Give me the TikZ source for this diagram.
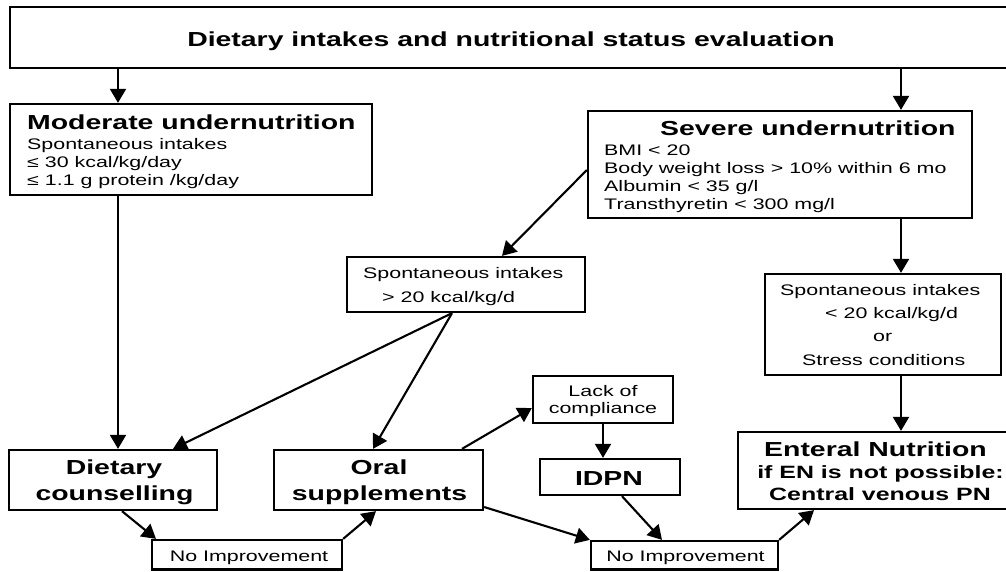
\documentclass[tikz,border=0pt]{standalone}
\usepackage{fontspec}
\setmainfont{Liberation Sans}[FakeStretch=1.4]
\usetikzlibrary{arrows.meta}
\newcommand\fsm{\fontsize{15.3}{18}\selectfont}
\newcommand\fbig{\fontsize{20.3}{24}\selectfont\bfseries}
\newcommand\fmid{\fontsize{17.8}{22}\selectfont\bfseries}
\begin{document}
\begin{tikzpicture}[x=1pt,y=-1pt,
  boxn/.style={draw, line width=2.3pt, inner sep=0pt},
  txt/.style={inner sep=0pt, anchor=base west},
  ctxt/.style={inner sep=0pt, anchor=base},
  arr/.style={line width=2.1pt, -{Triangle[width=16pt,length=14pt]}}]
\useasboundingbox (0,0) rectangle (1006,571);
\clip (0,0) rectangle (1006,571);
% boxes
\node[boxn, line width=2.8pt, minimum width=1002pt, minimum height=61pt] (top) at (511,37.5) {};
\node[boxn, minimum width=362pt, minimum height=91pt] (mod) at (191,149.5) {};
\node[boxn, minimum width=384pt, minimum height=107pt] (sev) at (780,164.5) {};
\node[boxn, minimum width=238pt, minimum height=55pt] (sp1) at (466,284.5) {};
\node[boxn, minimum width=236pt, minimum height=101pt] (sp2) at (883,324.5) {};
\node[boxn, minimum width=208pt, minimum height=60pt] (diet) at (113,480) {};
\node[boxn, minimum width=209pt, minimum height=60pt] (oral) at (378.5,480) {};
\node[boxn, minimum width=140pt, minimum height=47pt] (lack) at (603,399.5) {};
\node[boxn, minimum width=140pt, minimum height=36pt] (idpn) at (610,477) {};
\node[boxn, minimum width=274pt, minimum height=77pt] (ent) at (875,470.5) {};
\node[boxn, minimum width=190pt, minimum height=29.5pt] (ni1) at (247,554.75) {};
\node[boxn, minimum width=187pt, minimum height=28.5pt] (ni2) at (684.5,555.25) {};
% texts
\node[ctxt] (ttop) at (511,46.5) {\fbig Dietary intakes and nutritional status evaluation};
\node[txt] (tmod1) at (27,129.5) {\fbig Moderate undernutrition};
\node[txt] (tmod2) at (27,149.5) {\fsm Spontaneous intakes};
\node[txt] (tmod3) at (27,167.5) {\fsm ≤ 30 kcal/kg/day};
\node[txt] (tmod4) at (27,185.5) {\fsm ≤ 1.1 g protein /kg/day};
\node[txt] (tsev1) at (660,135) {\fbig Severe undernutrition};
\node[txt] (tsev2) at (604,155) {\fsm BMI < 20};
\node[txt] (tsev3) at (604,173) {\fsm Body weight loss > 10\% within 6 mo};
\node[txt] (tsev4) at (604,191) {\fsm Albumin < 35 g/l};
\node[txt] (tsev5) at (604,209) {\fsm Transthyretin < 300 mg/l};
\node[txt] (tsp11) at (363,278) {\fsm Spontaneous intakes};
\node[txt] (tsp12) at (382,302) {\fsm > 20 kcal/kg/d};
\node[txt] (tsp21) at (780,295) {\fsm Spontaneous intakes};
\node[txt] (tsp22) at (825,318) {\fsm < 20 kcal/kg/d};
\node[txt] (tsp23) at (873,341) {\fsm or};
\node[txt] (tsp24) at (802,365.5) {\fsm Stress conditions};
\node[ctxt] (tlack1) at (603,396.5) {\fsm Lack of};
\node[ctxt] (tlack2) at (603,413.5) {\fsm compliance};
\node[ctxt] (tidpn) at (609,485) {\fbig IDPN};
\node[ctxt] (tdiet1) at (114,474) {\fbig Dietary};
\node[ctxt] (tdiet2) at (114.5,500) {\fbig counselling};
\node[ctxt] (toral1) at (379,474) {\fbig Oral};
\node[ctxt] (toral2) at (379.5,500) {\fbig supplements};
\node[ctxt] (tni1) at (249,561.5) {\fsm No Improvement};
\node[ctxt] (tni2) at (685.5,561.5) {\fsm No Improvement};
\node[ctxt] (tent1) at (875.5,456) {\fbig Enteral Nutrition};
\node[ctxt] (tent2) at (880.5,478) {\fmid if EN is not possible:};
\node[ctxt] (tent3) at (880,500) {\fmid Central venous PN};
% connectors
\draw[arr] (top.south -| 118,0) -- (mod.north -| 118,0);
\draw[arr] (top.south -| 901,0) -- (sev.north -| 901,0);
\draw[arr] (sev.west |- 0,170) -- (sp1.north -| 502,0);
\draw[arr] (sp1.south -| 452,0) -- (diet.north -| 173,0);
\draw[arr] (sp1.south -| 452,0) -- (oral.north -| 373,0);
\draw[arr] (mod.south -| 118,0) -- (diet.north -| 118,0);
\draw[arr] (diet.south -| 122,0) -- (ni1.north -| 156,0);
\draw[arr] (ni1.north east) -- (oral.south -| 376,0);
\draw[arr] (oral.north -| 462,0) -- (lack.west |- 0,408);
\draw[arr] (oral.east |- 0,507) -- (ni2.north west);
\draw[arr] (lack.south -| 603,0) -- (idpn.north -| 603,0);
\draw[arr] (idpn.south -| 622,0) -- (ni2.north -| 662,0);
\draw[arr] (ni2.north east) -- (ent.south -| 814,0);
\draw[arr] (sev.south -| 901,0) -- (sp2.north -| 901,0);
\draw[arr] (sp2.south -| 901,0) -- (ent.north -| 901,0);
\end{tikzpicture}
\end{document}
